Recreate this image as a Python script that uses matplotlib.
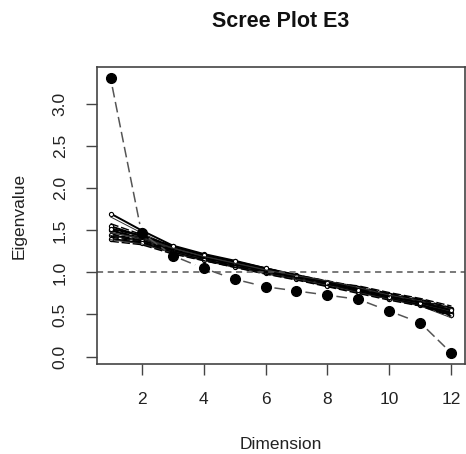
import numpy as np
import matplotlib.pyplot as plt

plt.rcParams['font.family'] = ['Liberation Sans', 'DejaVu Sans']

# dimensions and observed eigenvalues
dims = list(range(1, 13))
eigen = [3.31, 1.47, 1.20, 1.05, 0.92, 0.83, 0.78, 0.73, 0.68, 0.54, 0.40, 0.04]

# simulated eigenvalues (parallel analysis runs)
sim = [
    [1.70, 1.50, 1.32, 1.22, 1.14, 1.05, 0.97, 0.89, 0.81, 0.73, 0.66, 0.56],
    [1.66, 1.47, 1.30, 1.20, 1.12, 1.04, 0.96, 0.88, 0.80, 0.72, 0.65, 0.55],
    [1.58, 1.45, 1.31, 1.21, 1.13, 1.05, 0.97, 0.90, 0.83, 0.75, 0.68, 0.58],
    [1.55, 1.43, 1.29, 1.19, 1.11, 1.03, 0.96, 0.88, 0.81, 0.73, 0.66, 0.57],
    [1.53, 1.42, 1.30, 1.20, 1.12, 1.04, 0.95, 0.87, 0.80, 0.72, 0.65, 0.53],
    [1.51, 1.41, 1.28, 1.18, 1.10, 1.02, 0.95, 0.89, 0.82, 0.74, 0.67, 0.55],
    [1.50, 1.40, 1.27, 1.18, 1.10, 1.02, 0.94, 0.86, 0.78, 0.70, 0.64, 0.52],
    [1.48, 1.39, 1.28, 1.19, 1.12, 1.03, 0.95, 0.87, 0.79, 0.71, 0.63, 0.50],
    [1.46, 1.38, 1.27, 1.17, 1.09, 1.01, 0.94, 0.88, 0.84, 0.76, 0.69, 0.60],
    [1.45, 1.37, 1.26, 1.17, 1.09, 1.01, 0.93, 0.85, 0.77, 0.69, 0.62, 0.51],
    [1.44, 1.37, 1.25, 1.16, 1.08, 1.00, 0.93, 0.86, 0.78, 0.70, 0.63, 0.54],
    [1.42, 1.36, 1.26, 1.18, 1.10, 1.02, 0.95, 0.87, 0.80, 0.72, 0.64, 0.56],
    [1.40, 1.35, 1.24, 1.15, 1.07, 0.99, 0.92, 0.84, 0.77, 0.69, 0.61, 0.49],
    [1.39, 1.34, 1.23, 1.14, 1.06, 0.99, 0.92, 0.85, 0.76, 0.68, 0.60, 0.46],
    [1.37, 1.33, 1.22, 1.14, 1.06, 0.98, 0.91, 0.83, 0.75, 0.67, 0.60, 0.48],
    [1.52, 1.44, 1.31, 1.21, 1.13, 1.05, 0.96, 0.87, 0.79, 0.71, 0.64, 0.55],
    [1.47, 1.41, 1.29, 1.19, 1.11, 1.03, 0.96, 0.90, 0.82, 0.73, 0.66, 0.57],
    [1.43, 1.38, 1.27, 1.17, 1.08, 1.00, 0.94, 0.86, 0.79, 0.71, 0.65, 0.58],
]

fig = plt.figure(figsize=(4.66, 4.54), dpi=100)
ax = fig.add_axes([0.208, 0.198, 0.790, 0.654])
ax.set_xlim(0.56, 12.44)
ax.set_ylim(-0.09, 3.44)

# simulated runs
for i, s in enumerate(sim):
    if i % 3 == 0:
        ax.plot(dims, s, color='black', lw=1.4, marker='o', ms=3,
                mfc='white', mec='black', mew=0.8)
    elif i % 3 == 1:
        ax.plot(dims, s, color='#333333', lw=0.7)
    else:
        ax.plot(dims, s, color='black', lw=1.0, ls=(0, (6, 2)))

# reference line at 1
ax.axhline(1.0, color='#555555', lw=1.1, ls=(0, (4, 3)))

# observed eigenvalues, R type="b": segments with gaps around points
fig.canvas.draw()
pts = ax.transData.transform(np.column_stack([dims, eigen]))
inv = ax.transData.inverted()
gap = 9.0
for k in range(len(pts) - 1):
    p0, p1 = pts[k], pts[k + 1]
    d = p1 - p0
    L = np.hypot(*d)
    if L <= 2 * gap:
        continue
    u = d / L
    a = inv.transform(p0 + u * gap)
    b = inv.transform(p1 - u * gap)
    ax.plot([a[0], b[0]], [a[1], b[1]], color='#555555', lw=1.1,
            ls=(0, (7, 3)))
ax.plot(dims, eigen, 'o', color='black', ms=7, ls='none', zorder=5)

ax.set_xticks([2, 4, 6, 8, 10, 12])
ax.set_yticks([0.0, 0.5, 1.0, 1.5, 2.0, 2.5, 3.0])
ax.set_yticklabels(['0.0', '0.5', '1.0', '1.5', '2.0', '2.5', '3.0'],
                   rotation=90, va='center')
ax.tick_params(axis='both', labelsize=12.5, length=8, width=1, color='#444444',
               labelcolor='#222222')
ax.tick_params(axis='x', pad=12)
ax.tick_params(axis='y', pad=13)
for sp in ax.spines.values():
    sp.set_color('#444444')
    sp.set_linewidth(1.2)

# axis titles placed like R's base graphics margins
fig.text(0.603, 0.020, 'Dimension', fontsize=12.5, color='#222222',
         ha='center', va='center')
fig.text(0.041, 0.525, 'Eigenvalue', fontsize=12.5, color='#222222',
         ha='center', va='center', rotation=90)
fig.text(0.603, 0.952, 'Scree Plot E3', fontsize=15.5, fontweight='bold',
         color='#111111', ha='center', va='center')

fig.savefig('out.png', dpi=100)
